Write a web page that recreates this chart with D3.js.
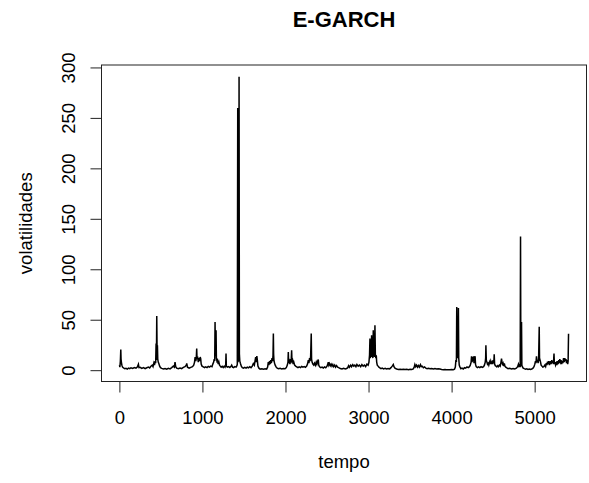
<!DOCTYPE html>
<head>
  <meta charset="UTF-8"/>
  <title>E-GARCH</title>
</head>
<body>
<script src="https://cdn.jsdelivr.net/npm/d3@7"></script>
<style>
body {
  margin: 0;
  background: #fff;
}
svg {
  display: block;
}
text {
  font-family: 'Liberation Sans', Arial, sans-serif;
  fill: #000;
}
text.title {
  font-size: 22px;
  font-weight: bold;
}
text.label, .axis text {
  font-size: 18.5px;
}
.axis path, .axis line, rect.box {
  stroke: #222;
  stroke-width: 1;
  fill: none;
}
path.serie {
  fill: none;
  stroke: #000;
  stroke-width: 1.5;
  stroke-linejoin: miter;
}
</style>

<svg width="589" height="483"></svg>

<script>
// leituras aproximadas do grafico original (indice, volatilidade)
const tempo = [
  1, 6, 12, 17, 20, 24, 30, 38, 50, 65, 80, 95, 110, 125, 140, 160, 180, 200, 215, 229,
  236, 250, 270, 290, 310, 330, 350, 365, 380, 395, 405, 415, 423, 430, 437, 442, 446, 450, 454, 458,
  462, 468, 475, 485, 495, 510, 530, 550, 570, 590, 610, 630, 650, 662, 670, 678, 690, 710, 730, 750,
  770, 790, 805, 811, 820, 840, 860, 880, 895, 905, 912, 920, 926, 931, 935, 942, 950, 958, 966, 973,
  979, 985, 995, 1010, 1025, 1040, 1055, 1070, 1085, 1100, 1115, 1125, 1135, 1142, 1148, 1152, 1156, 1160, 1164, 1168,
  1175, 1182, 1190, 1198, 1206, 1215, 1225, 1238, 1250, 1262, 1272, 1280, 1284, 1288, 1300, 1315, 1330, 1345, 1352, 1362,
  1375, 1390, 1405, 1415, 1420, 1425, 1429, 1434, 1438, 1441, 1445, 1450, 1458, 1468, 1480, 1495, 1510, 1525, 1540, 1555,
  1570, 1585, 1600, 1613, 1625, 1633, 1641, 1648, 1655, 1661, 1668, 1680, 1695, 1715, 1735, 1755, 1773, 1785, 1793, 1800,
  1808, 1815, 1822, 1830, 1838, 1845, 1850, 1854, 1857, 1861, 1868, 1876, 1888, 1900, 1915, 1935, 1955, 1975, 1995, 2010,
  2022, 2030, 2034, 2038, 2046, 2054, 2062, 2068, 2074, 2078, 2085, 2092, 2100, 2110, 2122, 2135, 2150, 2165, 2180, 2195,
  2210, 2225, 2240, 2255, 2265, 2275, 2282, 2290, 2296, 2303, 2310, 2314, 2320, 2330, 2340, 2350, 2360, 2370, 2378, 2388,
  2395, 2400, 2410, 2425, 2440, 2455, 2470, 2485, 2500, 2510, 2515, 2522, 2530, 2540, 2550, 2560, 2570, 2580, 2592, 2603,
  2615, 2628, 2640, 2660, 2680, 2700, 2720, 2736, 2750, 2760, 2770, 2785, 2795, 2810, 2822, 2835, 2848, 2860, 2875, 2890,
  2905, 2920, 2935, 2950, 2965, 2980, 2995, 3005, 3012, 3017, 3021, 3027, 3032, 3037, 3041, 3047, 3052, 3057, 3061, 3067,
  3072, 3077, 3082, 3088, 3093, 3098, 3105, 3115, 3125, 3137, 3150, 3165, 3180, 3200, 3215, 3235, 3255, 3270, 3285, 3298,
  3306, 3318, 3338, 3360, 3380, 3400, 3420, 3440, 3460, 3480, 3500, 3520, 3538, 3550, 3558, 3568, 3578, 3590, 3600, 3612,
  3625, 3635, 3645, 3660, 3675, 3690, 3705, 3720, 3740, 3760, 3780, 3800, 3820, 3840, 3860, 3880, 3900, 3920, 3940, 3960,
  3980, 4000, 4020, 4035, 4045, 4052, 4058, 4062, 4066, 4071, 4076, 4082, 4086, 4092, 4100, 4112, 4125, 4140, 4155, 4170,
  4185, 4200, 4215, 4225, 4235, 4240, 4246, 4252, 4258, 4264, 4270, 4277, 4283, 4288, 4296, 4310, 4325, 4340, 4355, 4370,
  4385, 4395, 4405, 4410, 4413, 4418, 4425, 4432, 4440, 4448, 4458, 4465, 4472, 4480, 4488, 4495, 4502, 4508, 4513, 4518,
  4526, 4535, 4545, 4555, 4565, 4575, 4585, 4593, 4601, 4607, 4613, 4620, 4628, 4635, 4642, 4652, 4665, 4680, 4700, 4720,
  4740, 4760, 4780, 4795, 4805, 4812, 4820, 4826, 4830, 4834, 4838, 4842, 4846, 4852, 4862, 4875, 4890, 4905, 4920, 4935,
  4950, 4965, 4980, 4992, 5002, 5010, 5016, 5022, 5028, 5035, 5042, 5048, 5055, 5059, 5065, 5071, 5078, 5088, 5098, 5110,
  5122, 5132, 5140, 5148, 5155, 5163, 5170, 5178, 5185, 5191, 5198, 5206, 5212, 5220, 5226, 5233, 5238, 5245, 5252, 5260,
  5268, 5275, 5282, 5290, 5296, 5303, 5310, 5318, 5325, 5333, 5340, 5348, 5355, 5363, 5370, 5377, 5384, 5392, 5398, 5403,
  5408
];

const volatilidades = [
  5, 3, 9, 20.5, 11, 8, 5, 3, 2.2, 1.4, 1.8, 1, 2, 1.5, 2.4, 1.8, 2.6, 2, 3, 5.9,
  2.5, 2.8, 1.8, 2.6, 1.5, 2.4, 3, 2.2, 4, 5, 3.5, 7, 5, 9, 7, 26.4, 10, 53.7, 18, 24.7,
  11, 8, 6.6, 4, 2.5, 1.8, 1.2, 1.6, 1, 1.8, 1.3, 2.5, 4, 3, 8, 3.5, 2, 1.5, 2.2, 1.6,
  2.8, 3.5, 5, 6.6, 3, 2, 2.8, 3.5, 5, 8, 13, 9, 12, 21.4, 11, 13.5, 8, 12, 9, 13,
  11.5, 6, 4, 3.3, 2.5, 3.3, 2.6, 3.8, 3, 4, 3.5, 6, 8, 11, 9, 47.8, 16, 14, 39.6, 12,
  9, 10, 6, 8, 5, 4, 3, 3.8, 2.6, 4, 3, 5, 16.5, 4, 3, 3.5, 2.6, 4, 5, 3,
  2.5, 3.5, 3, 4.5, 6, 259.8, 8, 12, 10, 290.8, 16, 9, 6.6, 4, 2.6, 2, 2.8, 2, 3, 2.3,
  3.5, 2.5, 4, 6.6, 5, 9, 13, 8, 14, 10, 4, 2, 1, 1.4, 0.9, 1.3, 1, 3, 8, 5,
  9, 6, 10, 7, 12, 9, 15, 36.3, 16, 10, 7, 5, 3, 2, 1.5, 1.8, 1.2, 1.6, 1.4, 2.5,
  5, 8, 18, 7, 9, 6, 11, 8, 19.8, 9, 10, 6, 8, 5, 4, 3.3, 2.5, 3.3, 2.6, 3.8,
  3, 3.5, 2.8, 4, 6, 10, 7, 12, 9, 14, 36.3, 11, 8, 6, 5, 7, 5, 8, 6, 9,
  10.6, 5, 3.3, 2.5, 3, 2.2, 3.3, 2.5, 4, 6, 8, 5, 6.6, 4.5, 6, 4, 5.6, 3.5, 5, 3,
  4.5, 3, 2.5, 1.6, 1.2, 1.8, 1.2, 1.6, 2.5, 4.5, 3, 5, 3.5, 5.5, 4, 5, 3.5, 5.6, 4, 5,
  3.5, 5.5, 4, 5, 3.5, 6, 5, 8, 15, 31.3, 12, 18, 14, 34.6, 13, 16, 12, 39.6, 14, 18,
  13, 44.5, 16, 12, 14.8, 8, 5, 4, 3, 2.2, 1.5, 2, 1.3, 1.8, 1.2, 1.6, 1.3, 2.5, 4, 5.6,
  3.5, 2, 1.2, 0.7, 1, 0.6, 0.9, 0.6, 0.8, 0.5, 0.9, 0.6, 1.2, 3, 5.6, 3.5, 5, 3, 4.6, 3,
  5.5, 3.5, 4, 2.5, 3.3, 2, 1.5, 1.8, 1.4, 1.6, 1.2, 1.6, 1.2, 1.5, 1.2, 0.7, 0.5, 0.6, 0.4, 0.5,
  0.4, 0.6, 0.5, 1, 3, 10, 8, 62.6, 15, 12, 14, 61.6, 12, 5, 3.3, 1.5, 2, 1.2, 2.5, 2,
  3.3, 2.5, 3.5, 5, 8, 13.8, 8, 13, 9, 13.8, 7, 12, 13.8, 6, 3.5, 2.6, 3.3, 2.5, 3.5, 2.8,
  3.5, 5, 8, 12, 24.7, 10, 8, 6, 7, 5, 8, 6, 9, 7, 8, 6, 10, 7, 15.8, 6,
  4.5, 4, 3.3, 4.5, 3.5, 5, 4, 7, 11.5, 8, 6, 7, 4, 6.6, 4, 3, 2.2, 1.5, 1.8, 1.2,
  1.6, 1.2, 2, 3.5, 6, 4, 5, 3, 132.4, 4, 6, 47.8, 5, 3.5, 2, 1.5, 1, 1.4, 0.8, 1.2,
  0.7, 1.2, 2, 3.5, 6, 9, 7, 13.8, 8, 10, 7, 12, 43, 9, 10, 8, 5, 4, 3, 3.5,
  5, 3.5, 7, 5, 8.5, 6, 9, 5, 7, 9, 6, 10, 7, 9, 6, 16.5, 6, 8, 5, 7,
  5, 9, 6, 10, 7, 11, 8, 10, 6, 9, 7, 12, 8, 12, 9, 11, 7, 10, 6, 9,
  36
];

const xTicks = [0, 1000, 2000, 3000, 4000, 5000];
const yTicks = [0, 50, 100, 150, 200, 250, 300];

const serie = tempo.map((t, i) => ({ t: t, v: volatilidades[i] }));

const svg = d3.select('svg');

// area do grafico (como no par() padrao do R)
const plotLeft = 101.5, plotRight = 586.5, plotTop = 65, plotBottom = 381.5;

// R amplia o intervalo dos dados em 4% de cada lado
const pad = (ext) => {
  const d = (ext[1] - ext[0]) * 0.04;
  return [ext[0] - d, ext[1] + d];
};

const xScale = d3.scaleLinear()
  .domain(pad(d3.extent(tempo)))
  .range([plotLeft, plotRight]);

const yScale = d3.scaleLinear()
  .domain(pad(d3.extent(volatilidades)))
  .range([plotBottom, plotTop]);

const line = d3.line()
  .x((d) => xScale(d.t))
  .y((d) => yScale(d.v));

svg.append('path')
  .datum(serie)
  .attr('class', 'serie')
  .attr('d', line);

// eixos
const xAxis = svg.append('g')
  .attr('class', 'axis')
  .attr('transform', `translate(0, ${plotBottom})`)
  .call(d3.axisBottom(xScale)
    .tickValues(xTicks)
    .tickSize(11)
    .tickSizeOuter(0)
    .tickFormat(d3.format('d')));
xAxis.select('.domain')
  .attr('d', `M${xScale(xTicks[0])},0H${xScale(xTicks[xTicks.length - 1])}`);
xAxis.selectAll('text')
  .attr('y', 42.5)
  .attr('dy', null);

const yAxis = svg.append('g')
  .attr('class', 'axis')
  .attr('transform', `translate(${plotLeft}, 0)`)
  .call(d3.axisLeft(yScale)
    .tickValues(yTicks)
    .tickSize(11)
    .tickSizeOuter(0));
yAxis.select('.domain')
  .attr('d', `M0,${yScale(yTicks[0])}V${yScale(yTicks[yTicks.length - 1])}`);
yAxis.selectAll('text')
  .attr('x', null)
  .attr('dy', null)
  .attr('text-anchor', 'middle')
  .attr('transform', 'translate(-26.5, 0) rotate(-90)')
  .attr('y', 0);

svg.append('rect')
  .attr('class', 'box')
  .attr('x', plotLeft)
  .attr('y', plotTop)
  .attr('width', plotRight - plotLeft)
  .attr('height', plotBottom - plotTop);

svg.append('text')
  .attr('class', 'title')
  .attr('x', (plotLeft + plotRight) / 2)
  .attr('y', 26.7)
  .attr('text-anchor', 'middle')
  .text('E-GARCH');

svg.append('text')
  .attr('class', 'label')
  .attr('x', (plotLeft + plotRight) / 2)
  .attr('y', 468)
  .attr('text-anchor', 'middle')
  .text('tempo');

svg.append('text')
  .attr('class', 'label')
  .attr('transform', `translate(31.7, ${(plotTop + plotBottom) / 2}) rotate(-90)`)
  .attr('text-anchor', 'middle')
  .text('volatilidades');
</script>
</body>
